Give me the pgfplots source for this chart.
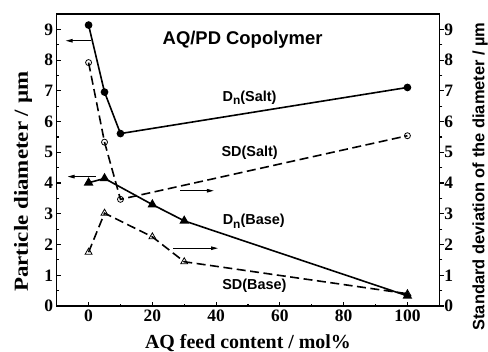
\documentclass[border=0pt]{standalone}
\usepackage{pgfplots}
\pgfplotsset{compat=1.18}
\usepackage{fontspec}
\setmainfont{Liberation Serif}
\newfontfamily\arialf{Liberation Sans}
\usetikzlibrary{arrows.meta}

\begin{document}
\begin{tikzpicture}
\pgfplotsset{
  common/.style={
    scale only axis, width=382.6bp, height=292bp,
    xmin=-10, xmax=110, ymin=0, ymax=9.5,
    ytick={0,1,...,9}, minor y tick num=1,
    tick style={black, line width=1.2bp},
    axis line style={line width=1.5bp},
    /pgf/number format/assume math mode=true,
    every tick label/.append style={font=\fontsize{17.5}{18}\selectfont\bfseries},
    clip=false,
  },
  solidline/.style={black, line width=1.6bp, solid},
  dashline/.style={black, line width=1.6bp, dash pattern=on 9bp off 4.5bp},
}
\begin{axis}[common,
  xtick={0,20,...,100}, minor x tick num=1,
  xtick pos=bottom, ytick pos=left,
  tick align=inside,
  major tick length=4bp, minor tick length=2.5bp,
]
\coordinate (sw) at (rel axis cs:0,0);
\coordinate (ne) at (rel axis cs:1,1);
% Dn(Salt)
\addplot[solidline, mark=*, mark size=3bp, mark options={solid, fill=black}] coordinates {
 (0,9.14) (5,6.96) (10,5.61) (100,7.11)};
% Dn(Base)
\addplot[solidline, mark=triangle*, mark size=4bp, mark options={solid, fill=black}] coordinates {
 (0,4.01) (5,4.15) (20,3.30) (30,2.77) (100,0.33)};
% arrows
\draw[line width=1bp, -{Triangle[length=7bp,width=3.5bp]}] (axis cs:0.8,8.63) -- (axis cs:-7.2,8.63);
\draw[line width=1bp, -{Triangle[length=7bp,width=3.5bp]}] (axis cs:2.2,4.21) -- (axis cs:-6.6,4.21);
\draw[line width=1bp, -{Triangle[length=7bp,width=3.5bp]}] (axis cs:28.7,3.75) -- (axis cs:39.3,3.75);
\draw[line width=1bp, -{Triangle[length=7bp,width=3.5bp]}] (axis cs:26.6,1.88) -- (axis cs:40.6,1.88);
% annotations
\node[font=\arialf\bfseries\fontsize{18.5}{19}\selectfont] at (axis cs:48.3,8.65) {AQ/PD Copolymer};
\node[font=\arialf\bfseries\fontsize{14.5}{15}\selectfont] at (axis cs:50.5,6.78) {D\raisebox{-0.45ex}{\fontsize{12}{12}\selectfont n}(Salt)};
\node[font=\arialf\bfseries\fontsize{14.5}{15}\selectfont] at (axis cs:50.5,4.97) {SD(Salt)};
\node[font=\arialf\bfseries\fontsize{14.5}{15}\selectfont] at (axis cs:51.8,2.75) {D\raisebox{-0.45ex}{\fontsize{12}{12}\selectfont n}(Base)};
\node[font=\arialf\bfseries\fontsize{14.5}{15}\selectfont] at (axis cs:52.0,0.65) {SD(Base)};
% axis labels
\node[font=\fontsize{20}{20}\selectfont\bfseries] at (rel axis cs:0.5,-0.1267) {AQ feed content / mol\%};
\node[rotate=90, font=\fontsize{20}{20}\selectfont\bfseries] at (rel axis cs:-0.0881,0.4257) {\scalebox{1.15}[1]{Particle diameter / µm}};
\node[rotate=90, inner sep=0pt, font=\arialf\bfseries\fontsize{16.5}{17}\selectfont] at (rel axis cs:1.1065,0.4435) {Standard deviation of the diameter / µm};
\end{axis}
\begin{axis}[common,
  axis x line=none, axis y line*=right,
  tick align=outside,
  major tick length=4.5bp, minor tick length=3bp,
  yticklabel style={xshift=-3bp},
]
% SD(Salt)
\addplot[dashline, mark=o, mark size=3bp, mark options={solid, fill=white, line width=0.8bp}] coordinates {
 (0,7.92) (5,5.33) (10,3.47) (100,5.54)};
% SD(Base)
\addplot[dashline, mark=triangle, mark size=4bp, mark options={solid, fill=white, line width=0.8bp}] coordinates {
 (0,1.75) (5,3.02) (20,2.25) (30,1.44) (100,0.40)};
\end{axis}
\pgfresetboundingbox
\path[use as bounding box] ([xshift=-56.7bp,yshift=-46bp]sw) rectangle ([xshift=48.7bp,yshift=14bp]ne);
\end{tikzpicture}
\end{document}
